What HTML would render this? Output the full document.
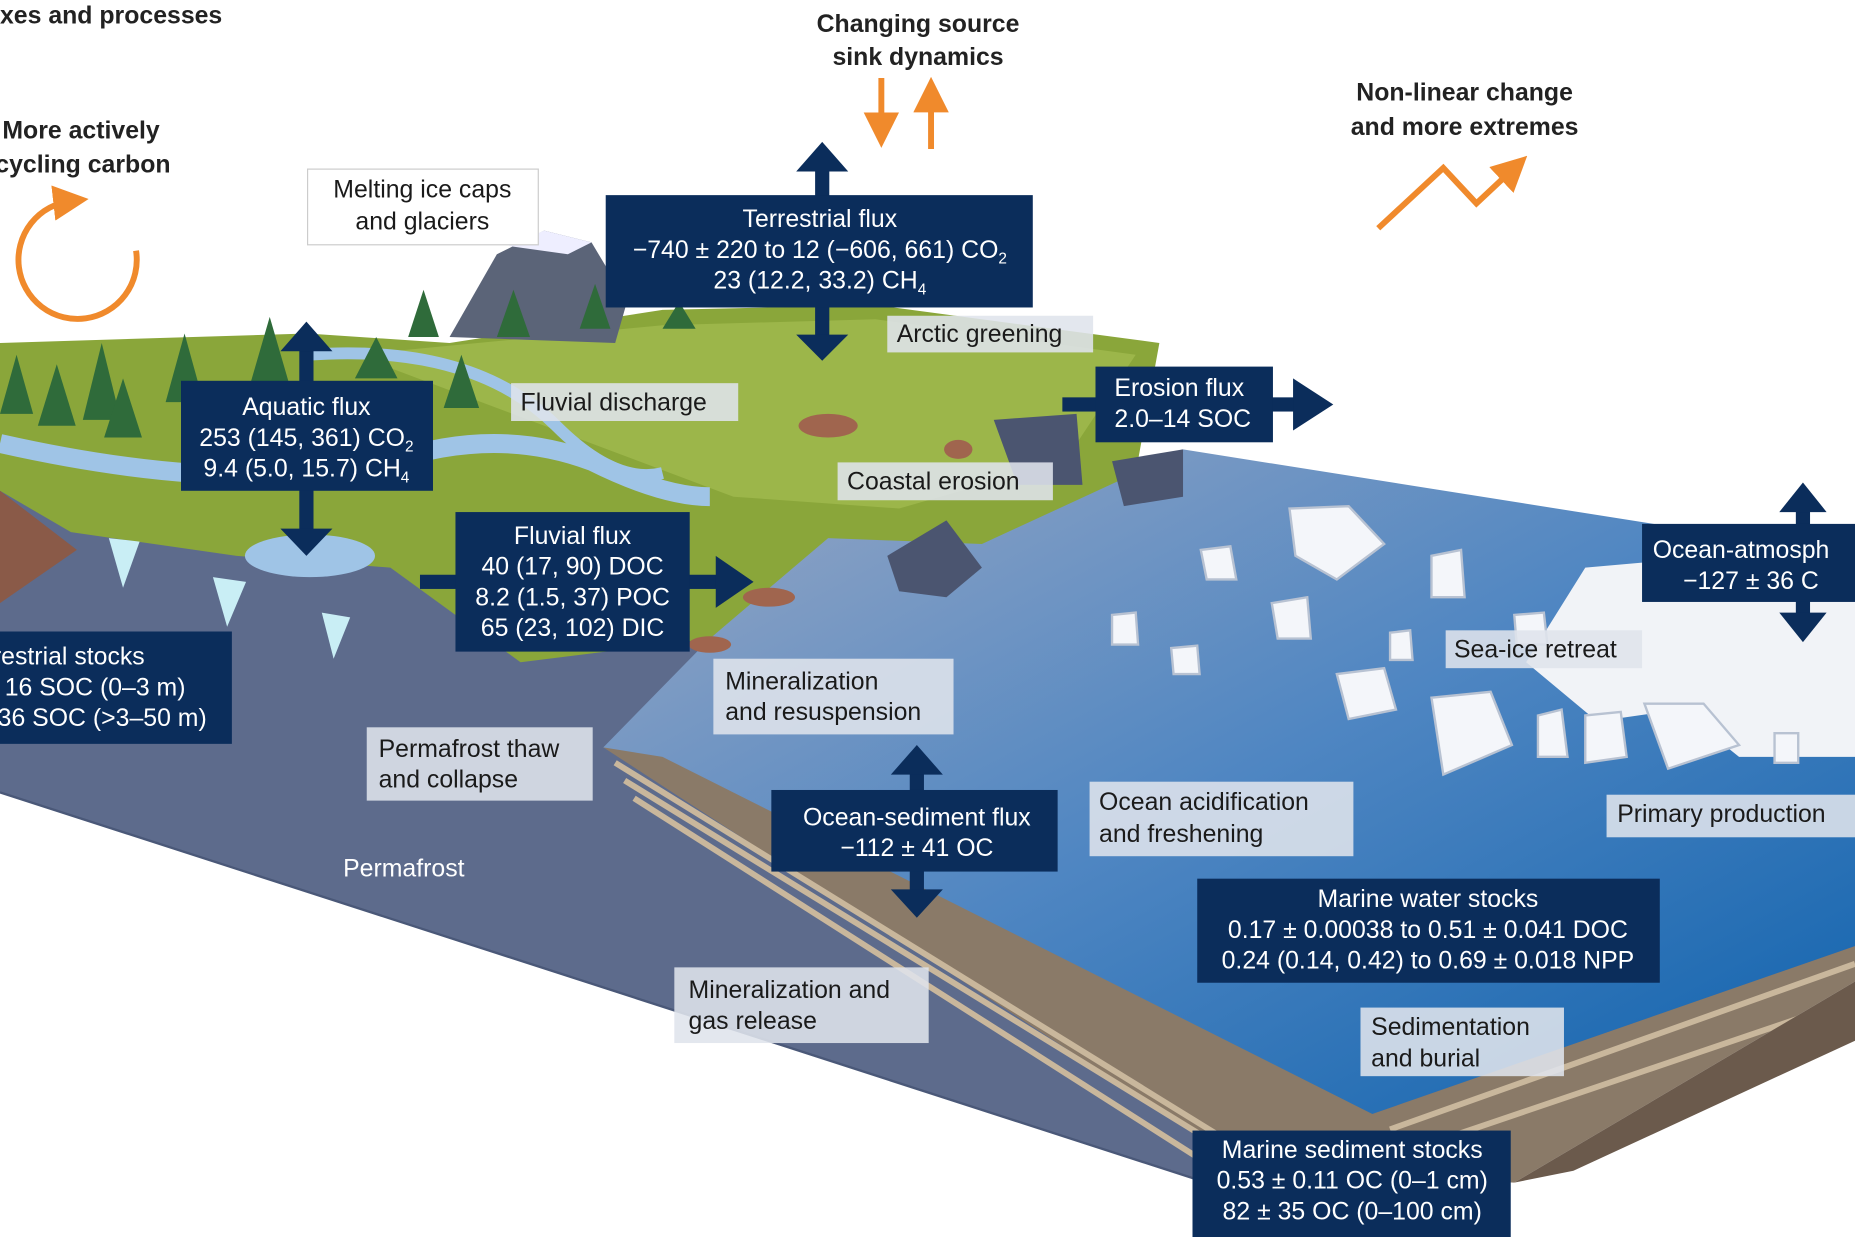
<!DOCTYPE html>
<html><head><meta charset="utf-8"><style>
html,body{margin:0;padding:0;background:#fff;width:1855px;height:1237px;overflow:hidden}
svg{display:block}
text{font-family:"Liberation Sans",sans-serif}
.w{fill:#fff;font-size:21px}
.d{fill:#1a1a1a;font-size:21px}
.b{fill:#222;font-size:21px;font-weight:bold}
.nb{fill:#0b2d5b}
.lb{fill:#dfe4ec;opacity:.88}
</style></head><body>
<svg width="1855" height="1237" viewBox="0 0 1568 1046" preserveAspectRatio="none">
<defs>
<linearGradient id="oc" x1="0" y1="0" x2="1" y2="1">
<stop offset="0" stop-color="#9aa8c4"/><stop offset="0.5" stop-color="#4f86c2"/><stop offset="1" stop-color="#0f62ad"/></linearGradient>
<marker id="ao" markerWidth="6" markerHeight="6" refX="3" refY="3" orient="auto"><path d="M0,0L6,3L0,6z" fill="#f08a2c"/></marker>
</defs>
<polygon points="0,380 700,380 1568,500 1568,830 1160,945 1020,1000 0,670" fill="#5d6b8c"/>
<polygon points="510,632 600,540 700,450 1000,380 1568,470 1568,800 1160,942" fill="url(#oc)"/>
<polygon points="510,632 560,640 1160,942 1568,800 1568,830 1280,1000 1060,990" fill="#8a7a68"/>
<g stroke="#c9b79c" stroke-width="5" fill="none">
<path d="M520,645 L1030,960"/><path d="M528,660 L1040,975"/><path d="M536,675 L1030,990"/><path d="M1175,955 L1568,815"/><path d="M1200,970 L1568,845"/>
</g>
<polygon points="1280,1000 1568,830 1568,880 1330,990" fill="#6b5a4c"/>
<polygon points="0,290 260,282 380,290 560,262 740,258 980,290 960,400 830,460 700,455 600,540 440,560 330,480 200,470 60,450 0,415" fill="#8aa63a"/>
<polygon points="300,300 560,275 740,270 960,300 900,390 760,430 620,420" fill="#9cb64a"/>
<polygon points="0,415 0,510 65,465" fill="#8a5a48"/>
<path d="M0,375 Q200,420 330,390 Q420,360 500,390 Q560,420 600,420" stroke="#9fc4e6" stroke-width="16" fill="none"/>
<path d="M260,300 Q400,290 470,360 Q520,410 560,400" stroke="#9fc4e6" stroke-width="10" fill="none"/>
<ellipse cx="262" cy="470" rx="55" ry="18" fill="#9fc4e6"/>
<g fill="#4b5570"><polygon points="750,470 800,440 830,480 800,505 760,500"/><polygon points="840,355 910,350 915,410 860,410"/><polygon points="940,390 1000,380 1000,420 950,428"/></g>
<g fill="#a0654e"><ellipse cx="650" cy="505" rx="22" ry="8"/><ellipse cx="600" cy="545" rx="18" ry="7"/><ellipse cx="700" cy="360" rx="25" ry="10"/><ellipse cx="810" cy="380" rx="12" ry="8"/></g>
<polygon points="380,285 420,215 460,195 500,205 530,255 520,290" fill="#5b6478"/>
<polygon points="430,208 460,195 500,205 480,215" fill="#eef"/>
<g fill="#2f6b3a">
<polygon points="0,350 14,300 28,350"/><polygon points="32,360 48,308 64,360"/><polygon points="70,355 86,290 102,355"/><polygon points="88,370 104,320 120,370"/><polygon points="140,340 156,282 172,340"/><polygon points="210,330 228,268 246,330"/><polygon points="300,320 318,285 336,320"/><polygon points="345,285 358,245 371,285"/><polygon points="420,285 434,245 448,285"/><polygon points="490,278 503,240 516,278"/><polygon points="560,278 574,255 588,278"/><polygon points="375,345 390,300 405,345"/>
</g>
<g fill="#c9eef5"><polygon points="92,455 118,458 104,497"/><polygon points="180,488 208,492 192,530"/><polygon points="272,518 296,522 282,557"/></g>
<path d="M1340,480 L1568,460 L1568,640 L1470,640 L1420,600 L1350,610 L1290,560 Z" fill="#f1f3f7"/>
<g fill="#f4f6fa" stroke="#b8c2d2" stroke-width="2">
<path d="M1090,430 L1140,428 L1170,460 L1130,490 L1095,470Z"/><path d="M1210,470 L1235,465 L1238,505 L1210,505Z"/><path d="M1075,510 L1105,505 L1108,540 L1080,540Z"/><path d="M1015,465 L1040,462 L1045,490 L1020,490Z"/><path d="M940,520 L960,518 L962,545 L940,545Z"/><path d="M990,548 L1012,546 L1014,570 L992,570Z"/><path d="M1130,570 L1170,565 L1180,600 L1140,608Z"/><path d="M1210,590 L1260,585 L1278,630 L1220,655Z"/><path d="M1300,605 L1320,600 L1325,640 L1300,640Z"/><path d="M1340,605 L1370,602 L1375,640 L1340,645Z"/><path d="M1390,595 L1440,595 L1470,630 L1410,650Z"/><path d="M1500,620 L1520,620 L1520,645 L1500,645Z"/><path d="M1175,535 L1192,533 L1194,558 L1175,558Z"/><path d="M1280,520 L1305,518 L1308,545 L1282,545Z"/>
</g>
<line x1="0" y1="670" x2="1020" y2="1000" stroke="#4a5878" stroke-width="2"/>
<text x="290" y="741" fill="#fff" font-size="21">Permafrost</text>

<text x="0" y="20" class="b">xes and processes</text>
<text x="2" y="117" class="b">More actively</text>
<text x="-4" y="146" class="b">cycling carbon</text>
<path d="M115,212 A50,50 0 1 1 60,170" stroke="#f08a2c" stroke-width="5" fill="none" marker-end="url(#ao)"/>
<text x="776" y="27" class="b" text-anchor="middle">Changing source</text>
<text x="776" y="55" class="b" text-anchor="middle">sink dynamics</text>
<line x1="745" y1="66" x2="745" y2="110" stroke="#f08a2c" stroke-width="5" marker-end="url(#ao)"/>
<line x1="787" y1="126" x2="787" y2="80" stroke="#f08a2c" stroke-width="5" marker-end="url(#ao)"/>
<text x="1238" y="85" class="b" text-anchor="middle">Non-linear change</text>
<text x="1238" y="114" class="b" text-anchor="middle">and more extremes</text>
<polyline points="1165,193 1220,142 1248,172 1280,142" stroke="#f08a2c" stroke-width="5" fill="none" marker-end="url(#ao)"/>

<g fill="#0b2d5b">
<rect x="689" y="140" width="12" height="148"/><polygon points="673,145 695,120 717,145"/><polygon points="673,283 695,305 717,283"/>
<rect x="253" y="292" width="12" height="160"/><polygon points="237,297 259,272 281,297"/><polygon points="237,447 259,470 281,447"/>
<rect x="355" y="486" width="255" height="12"/><polygon points="605,470 637,492 605,514"/>
<rect x="898" y="336" width="200" height="12"/><polygon points="1093,320 1127,342 1093,364"/>
<rect x="1518" y="428" width="12" height="95"/><polygon points="1504,433 1524,408 1544,433"/><polygon points="1504,518 1524,543 1544,518"/>
<rect x="769" y="650" width="12" height="106"/><polygon points="753,655 775,630 797,655"/><polygon points="753,752 775,776 797,752"/>
</g>

<rect class="nb" x="512" y="165" width="361" height="95"/>
<text class="w" x="693" y="192" text-anchor="middle">Terrestrial flux</text>
<text class="w" x="693" y="218" text-anchor="middle">−740 ± 220 to 12 (−606, 661) CO<tspan font-size="13" dy="5">2</tspan></text>
<text class="w" x="693" y="244" text-anchor="middle">23 (12.2, 33.2) CH<tspan font-size="13" dy="5">4</tspan></text>

<rect class="nb" x="153" y="322" width="213" height="93"/>
<text class="w" x="259" y="351" text-anchor="middle">Aquatic flux</text>
<text class="w" x="259" y="377" text-anchor="middle">253 (145, 361) CO<tspan font-size="13" dy="5">2</tspan></text>
<text class="w" x="259" y="403" text-anchor="middle">9.4 (5.0, 15.7) CH<tspan font-size="13" dy="5">4</tspan></text>

<rect class="nb" x="385" y="433" width="198" height="118"/>
<text class="w" x="484" y="460" text-anchor="middle">Fluvial flux</text>
<text class="w" x="484" y="486" text-anchor="middle">40 (17, 90) DOC</text>
<text class="w" x="484" y="512" text-anchor="middle">8.2 (1.5, 37) POC</text>
<text class="w" x="484" y="538" text-anchor="middle">65 (23, 102) DIC</text>

<rect class="nb" x="926" y="310" width="150" height="64"/>
<text class="w" x="942" y="335">Erosion flux</text>
<text class="w" x="942" y="361">2.0–14 SOC</text>

<rect class="nb" x="1388" y="443" width="180" height="66"/>
<text class="w" x="1397" y="472">Ocean-atmosph</text>
<text class="w" x="1480" y="498" text-anchor="middle">−127 ± 36 C</text>

<rect class="nb" x="0" y="534" width="196" height="95"/>
<text class="w" x="-6" y="562">restrial stocks</text>
<text class="w" x="4" y="588">16 SOC (0–3 m)</text>
<text class="w" x="-2" y="614">36 SOC (&gt;3–50 m)</text>

<rect class="nb" x="652" y="668" width="242" height="69"/>
<text class="w" x="775" y="698" text-anchor="middle">Ocean-sediment flux</text>
<text class="w" x="775" y="724" text-anchor="middle">−112 ± 41 OC</text>

<rect class="nb" x="1012" y="743" width="391" height="88"/>
<text class="w" x="1207" y="767" text-anchor="middle">Marine water stocks</text>
<text class="w" x="1207" y="793" text-anchor="middle">0.17 ± 0.00038 to 0.51 ± 0.041 DOC</text>
<text class="w" x="1207" y="819" text-anchor="middle">0.24 (0.14, 0.42) to 0.69 ± 0.018 NPP</text>

<rect class="nb" x="1008" y="956" width="269" height="90"/>
<text class="w" x="1143" y="979" text-anchor="middle">Marine sediment stocks</text>
<text class="w" x="1143" y="1005" text-anchor="middle">0.53 ± 0.11 OC (0–1 cm)</text>
<text class="w" x="1143" y="1031" text-anchor="middle">82 ± 35 OC (0–100 cm)</text>

<rect x="260" y="143" width="195" height="64" fill="#fff" stroke="#ccc"/>
<text class="d" x="357" y="167" text-anchor="middle">Melting ice caps</text>
<text class="d" x="357" y="194" text-anchor="middle">and glaciers</text>
<rect class="lb" x="750" y="267" width="174" height="31"/><text class="d" x="758" y="289">Arctic greening</text>
<rect class="lb" x="432" y="324" width="192" height="32"/><text class="d" x="440" y="347">Fluvial discharge</text>
<rect class="lb" x="708" y="391" width="182" height="32"/><text class="d" x="716" y="414">Coastal erosion</text>
<rect class="lb" x="603" y="557" width="203" height="64"/><text class="d" x="613" y="583">Mineralization</text><text class="d" x="613" y="609">and resuspension</text>
<rect class="lb" x="310" y="615" width="191" height="62"/><text class="d" x="320" y="640">Permafrost thaw</text><text class="d" x="320" y="666">and collapse</text>
<rect class="lb" x="921" y="661" width="223" height="63"/><text class="d" x="929" y="685">Ocean acidification</text><text class="d" x="929" y="712">and freshening</text>
<rect class="lb" x="1222" y="533" width="166" height="32"/><text class="d" x="1229" y="556">Sea-ice retreat</text>
<rect class="lb" x="1358" y="672" width="210" height="36"/><text class="d" x="1367" y="695">Primary production</text>
<rect class="lb" x="570" y="818" width="215" height="64"/><text class="d" x="582" y="844">Mineralization and</text><text class="d" x="582" y="870">gas release</text>
<rect class="lb" x="1150" y="852" width="172" height="58"/><text class="d" x="1159" y="875">Sedimentation</text><text class="d" x="1159" y="902">and burial</text>
</svg>
</body></html>
